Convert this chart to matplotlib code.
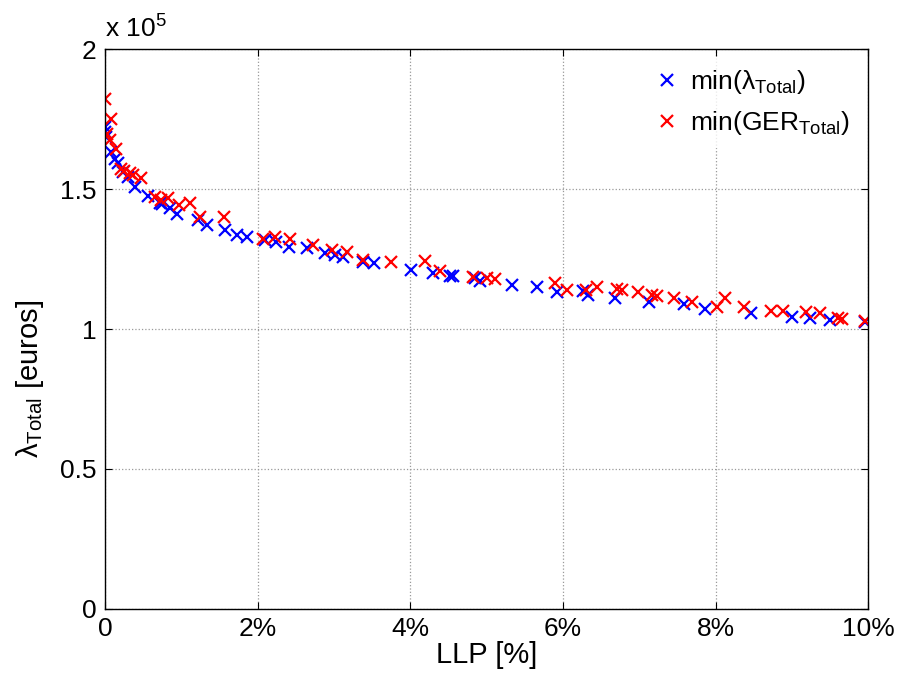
import matplotlib.pyplot as plt

plt.rcParams['font.family'] = ['Liberation Sans', 'DejaVu Sans']
plt.rcParams['mathtext.fontset'] = 'custom'
plt.rcParams['mathtext.rm'] = 'Liberation Sans'
plt.rcParams['mathtext.it'] = 'Liberation Sans:italic'

# LLP [%] and lambda_Total [x 1e5 euros], min(lambda_Total) solutions
llp_lam = [0.0, 0.0, 0.01, 0.075, 0.127, 0.166, 0.232, 0.298, 0.389, 0.56,
           0.717, 0.743, 0.848, 0.94, 1.215, 1.333, 1.569, 1.726, 1.857, 2.093,
           2.237, 2.407, 2.643, 2.879, 3.01, 3.115, 3.377, 3.521, 4.006, 4.295,
           4.518, 4.557, 4.845, 4.911, 5.33, 5.658, 5.92, 6.261, 6.327, 6.681,
           7.126, 7.585, 7.86, 8.463, 9.0, 9.236, 9.498, 9.957]
cost_lam = [1.721, 1.704, 1.686, 1.632, 1.607, 1.593, 1.561, 1.543, 1.507, 1.475,
            1.45, 1.446, 1.432, 1.411, 1.389, 1.371, 1.354, 1.336, 1.329, 1.318,
            1.311, 1.293, 1.289, 1.271, 1.264, 1.257, 1.239, 1.236, 1.211, 1.2,
            1.189, 1.189, 1.182, 1.171, 1.157, 1.15, 1.132, 1.136, 1.121, 1.111,
            1.096, 1.089, 1.071, 1.057, 1.043, 1.039, 1.032, 1.025]

# min(GER_Total) solutions
llp_ger = [0.0, 0.075, 0.022, 0.062, 0.14, 0.205, 0.245, 0.324, 0.363, 0.468,
           0.651, 0.73, 0.822, 0.966, 1.11, 1.241, 1.556, 2.067, 2.224, 2.421,
           2.722, 2.971, 3.168, 3.377, 3.744, 4.19, 4.387, 4.819, 5.003, 5.108,
           5.894, 6.052, 6.3, 6.444, 6.706, 6.772, 6.981, 7.165, 7.231, 7.454,
           7.69, 8.017, 8.122, 8.371, 8.725, 8.882, 9.183, 9.367, 9.603, 9.655,
           9.957]
cost_ger = [1.821, 1.75, 1.696, 1.675, 1.643, 1.571, 1.564, 1.557, 1.55, 1.539,
            1.471, 1.461, 1.468, 1.443, 1.45, 1.4, 1.4, 1.321, 1.329, 1.321,
            1.3, 1.282, 1.275, 1.246, 1.239, 1.243, 1.207, 1.186, 1.182, 1.179,
            1.164, 1.139, 1.139, 1.15, 1.143, 1.139, 1.132, 1.121, 1.118, 1.111,
            1.096, 1.079, 1.111, 1.079, 1.064, 1.064, 1.061, 1.057, 1.039, 1.036,
            1.029]

xticks = [0, 2, 4, 6, 8, 10]
xticklabels = ['0', '2%', '4%', '6%', '8%', '10%']
yticks = [0, 0.5, 1, 1.5, 2]
yticklabels = ['0', '0.5', '1', '1.5', '2']

fig = plt.figure(figsize=(8.99, 6.75), dpi=100)
ax = fig.add_axes([0.117, 0.098, 0.849, 0.829])

ax.plot(llp_lam, cost_lam, 'x', color='blue', markersize=9, markeredgewidth=1.6,
        label=r'min(λ$_{\mathrm{Total}}$)')
ax.plot(llp_ger, cost_ger, 'x', color='red', markersize=9, markeredgewidth=1.6,
        label=r'min(GER$_{\mathrm{Total}}$)')

ax.set_xlim(0, 10)
ax.set_ylim(0, 2)
ax.set_xticks(xticks)
ax.set_xticklabels(xticklabels)
ax.set_yticks(yticks)
ax.set_yticklabels(yticklabels)
ax.tick_params(direction='in', length=5, labelsize=19, top=True, right=True, pad=6)
ax.grid(True, linestyle=':', color='#999999', linewidth=0.9)
for s in ax.spines.values():
    s.set_linewidth(1.0)

ax.set_xlabel('LLP [%]', fontsize=21, labelpad=0)
ax.set_ylabel(r'λ$_{\mathrm{Total}}$ [euros]', fontsize=21)
ax.yaxis.set_label_coords(-0.077, 0.41)
ax.text(0.0, 1.012, r'x 10$^{5}$', transform=ax.transAxes, fontsize=19,
        ha='left', va='bottom')

leg = ax.legend(loc='upper right', fontsize=19, frameon=True, fancybox=False,
                handlelength=0.8, handletextpad=0.5, borderaxespad=0.3,
                labelspacing=0.5)
leg.get_frame().set_facecolor('white')
leg.get_frame().set_edgecolor('white')

fig.savefig('out.png', dpi=100)
